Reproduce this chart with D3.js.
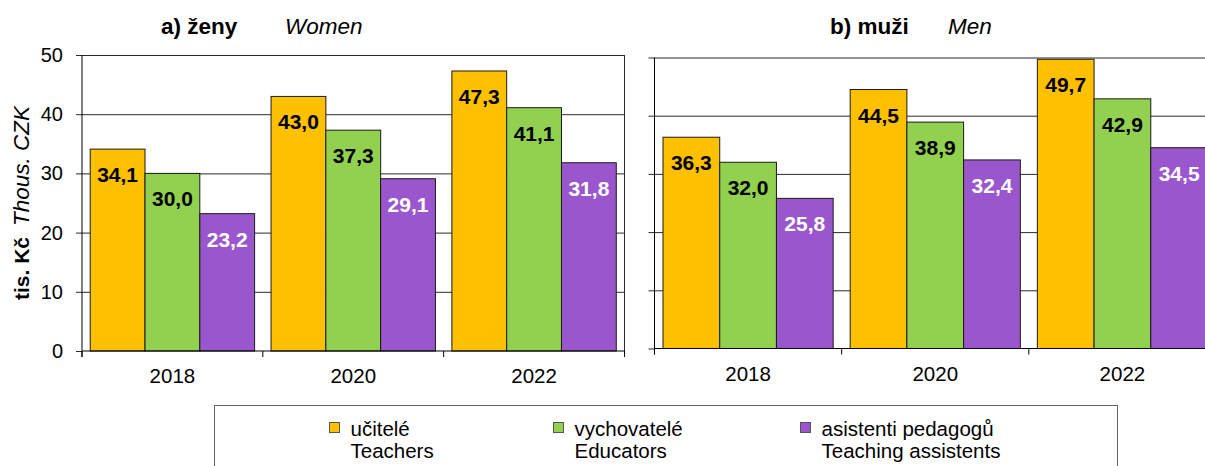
<!DOCTYPE html>
<html><head><meta charset="utf-8">
<script src="https://cdn.jsdelivr.net/npm/d3@7"></script>
<style>
body{margin:0;background:#fff}
svg{display:block;font-family:"Liberation Sans",Arial,sans-serif}
</style>
</head><body>
<svg id="c" width="1205" height="466"></svg>
<script>
// ---- data ----
const years = ["2018", "2020", "2022"];
const seriesKeys = ["teachers", "educators", "assistants"];
const seriesCz = ["učitelé", "vychovatelé", "asistenti pedagogů"];
const seriesEn = ["Teachers", "Educators", "Teaching assistents"];
const seriesColors = ["#FFC000", "#92D050", "#9A57CD"];
const labelColors = ["#000000", "#000000", "#FFFFFF"];
const womenTeachers = [34.1, 43.0, 47.3];
const womenEducators = [30.0, 37.3, 41.1];
const womenAssistants = [23.2, 29.1, 31.8];
const menTeachers = [36.3, 44.5, 49.7];
const menEducators = [32.0, 38.9, 42.9];
const menAssistants = [25.8, 32.4, 34.5];
const yTicks = [0, 10, 20, 30, 40, 50];
const titleWomen = ["a) ženy", "Women"];
const titleMen = ["b) muži", "Men"];
const yTitle = ["tis. Kč", "Thous. CZK"];

const fmt = v => d3.format(".1f")(v).replace(".", ",");
const svg = d3.select("#c");
svg.append("rect").attr("width", 1205).attr("height", 466).attr("fill", "#fff");

function panel(cfg) {
  const g = svg.append("g");
  const x = d3.scaleBand().domain(years).range([cfg.x0, cfg.x1]).padding(0);
  const xs = d3.scaleBand().domain(seriesKeys).range([0, x.bandwidth()]).paddingInner(0).paddingOuter(0.15);
  const y = d3.scaleLinear().domain([0, 50]).range([cfg.yB, cfg.yT]);
  const w = cfg.x1 - cfg.x0;

  // gridlines
  const grid = g.append("g").attr("transform", `translate(${cfg.x0},0)`)
    .call(d3.axisLeft(y).tickValues(yTicks.filter(t => t > 0)).tickSize(-w).tickFormat(""));
  grid.select(".domain").remove();
  grid.selectAll("line").attr("stroke", "#2b2b2b").attr("stroke-width", 1);

  // plot border right
  g.append("line").attr("x1", cfg.x1).attr("x2", cfg.x1).attr("y1", y(50)).attr("y2", cfg.yB + 6)
    .attr("stroke", "#2b2b2b");

  const rows = years.map((yr, i) => ({ yr, vals: cfg.series.map(s => s[i]) }));
  const grp = g.selectAll("g.grp").data(rows).join("g").attr("class", "grp")
    .attr("transform", d => `translate(${x(d.yr)},0)`);
  grp.selectAll("rect").data(d => d.vals.map((v, k) => ({ v, k })))
    .join("rect")
    .attr("x", d => xs(seriesKeys[d.k])).attr("width", xs.bandwidth())
    .attr("y", d => y(d.v)).attr("height", d => y(0) - y(d.v))
    .attr("fill", d => seriesColors[d.k]).attr("stroke", "#1a1a1a").attr("stroke-width", 1);
  grp.selectAll("text.val").data(d => d.vals.map((v, k) => ({ v, k })))
    .join("text").attr("class", "val")
    .attr("x", d => xs(seriesKeys[d.k]) + xs.bandwidth() / 2)
    .attr("y", d => y(d.v) + 33)
    .attr("text-anchor", "middle").attr("font-weight", "bold").attr("font-size", 21)
    .attr("fill", d => labelColors[d.k]).text(d => fmt(d.v));

  // y axis
  const ya = g.append("g").attr("transform", `translate(${cfg.x0},0)`)
    .call(d3.axisLeft(y).tickValues(yTicks).tickSize(6).tickPadding(13)
      .tickFormat(cfg.labels ? d3.format("d") : ""));
  ya.select(".domain").remove();
  ya.selectAll("line").attr("stroke", "#2b2b2b");
  ya.selectAll("text").attr("font-size", 20).attr("font-family", null).attr("fill", "#000");
  g.append("line").attr("x1", cfg.x0).attr("x2", cfg.x0).attr("y1", y(50)).attr("y2", cfg.yB + 6)
    .attr("stroke", "#000");

  // x axis
  g.append("line").attr("x1", cfg.x0).attr("x2", cfg.x1).attr("y1", cfg.yB).attr("y2", cfg.yB)
    .attr("stroke", "#000");
  const bounds = years.map(yr => x(yr)).concat([cfg.x1]);
  g.selectAll("line.xt").data(bounds).join("line").attr("class", "xt")
    .attr("x1", d => d).attr("x2", d => d).attr("y1", cfg.yB).attr("y2", cfg.yB + 6).attr("stroke", "#000");
  const xa = g.append("g").attr("transform", `translate(0,${cfg.yB})`)
    .call(d3.axisBottom(x).tickSize(0).tickPadding(0));
  xa.select(".domain").remove();
  xa.selectAll("text").attr("font-size", 20.5).attr("font-family", null).attr("fill", "#000")
    .attr("dy", null).attr("y", 32);

  // title
  g.append("text").attr("x", cfg.tx1).attr("y", 34).attr("font-size", 22.5).attr("font-weight", "bold").text(cfg.title[0]);
  g.append("text").attr("x", cfg.tx2).attr("y", 34).attr("font-size", 22.5).attr("font-style", "italic").text(cfg.title[1]);
}

panel({ x0: 82, x1: 624.5, yB: 351, yT: 55, series: [womenTeachers, womenEducators, womenAssistants],
  labels: true, title: titleWomen, tx1: 161, tx2: 285 });
panel({ x0: 654.5, x1: 1216, yB: 348.5, yT: 57.5, series: [menTeachers, menEducators, menAssistants],
  labels: false, title: titleMen, tx1: 830, tx2: 948 });

// y-axis title
const yt = svg.append("text").attr("transform", "translate(29,300) rotate(-90)").attr("font-size", 21);
yt.append("tspan").attr("font-weight", "bold").text(yTitle[0]);
yt.append("tspan").attr("dx", 11).attr("font-style", "italic").attr("font-size", 22.5).text(yTitle[1]);

// legend
const lg = svg.append("g");
lg.append("rect").attr("x", 214.5).attr("y", 405.5).attr("width", 903).attr("height", 80)
  .attr("fill", "#fff").attr("stroke", "#666").attr("stroke-width", 1);
const legX = [329.5, 553.5, 800.5];
seriesKeys.forEach((k, i) => {
  lg.append("rect").attr("x", legX[i]).attr("y", 422.5).attr("width", 10).attr("height", 10)
    .attr("fill", seriesColors[i]).attr("stroke", "#555");
  const tx = lg.append("text").attr("font-size", 20.5).attr("fill", "#000");
  tx.append("tspan").attr("x", legX[i] + 21).attr("y", 436).text(seriesCz[i]);
  tx.append("tspan").attr("x", legX[i] + 21).attr("y", 458).text(seriesEn[i]);
});
</script>
</body></html>
